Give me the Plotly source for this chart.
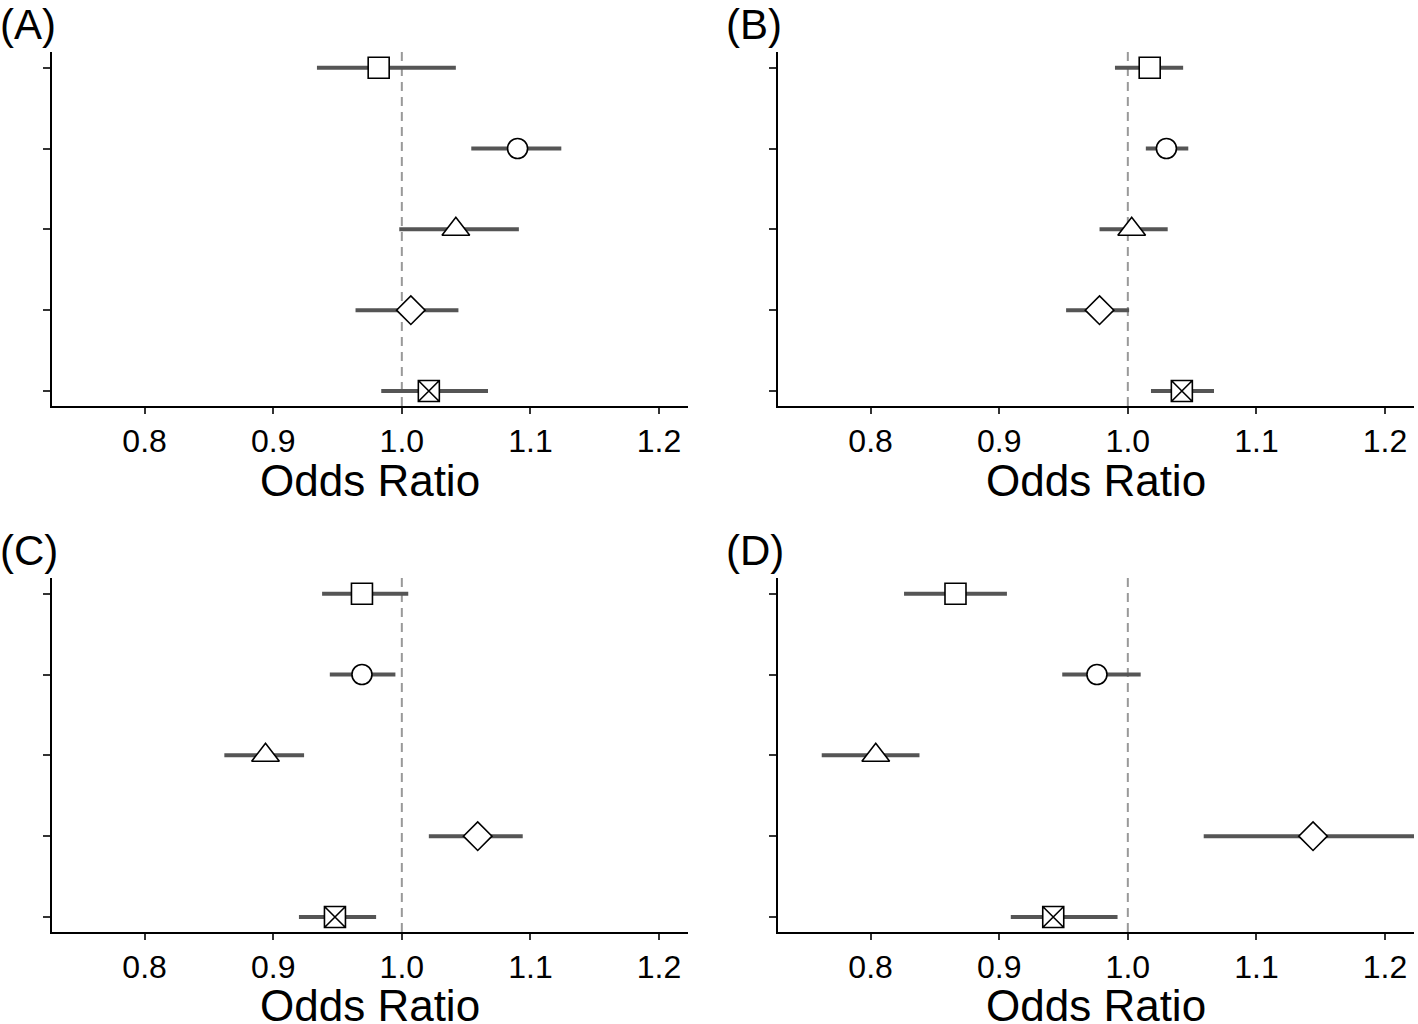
import plotly.graph_objects as go

# Rows (top to bottom): square, circle, triangle, diamond, crossed square
rows = [5, 4, 3, 2, 1]
symbols = ["square", "circle", "triangle-up", "diamond", "square-x"]
sizes = [21, 20, 24, 22, 21]

panels = ["(A)", "(B)", "(C)", "(D)"]

est_A = [0.982, 1.090, 1.042, 1.007, 1.021]
lo_A = [0.934, 1.054, 0.998, 0.964, 0.984]
hi_A = [1.042, 1.124, 1.091, 1.044, 1.067]

est_B = [1.017, 1.030, 1.003, 0.978, 1.042]
lo_B = [0.990, 1.014, 0.978, 0.952, 1.018]
hi_B = [1.043, 1.047, 1.031, 1.001, 1.067]

est_C = [0.969, 0.969, 0.894, 1.059, 0.948]
lo_C = [0.938, 0.944, 0.862, 1.021, 0.920]
hi_C = [1.005, 0.995, 0.924, 1.094, 0.980]

est_D = [0.866, 0.976, 0.804, 1.144, 0.942]
lo_D = [0.826, 0.949, 0.762, 1.059, 0.909]
hi_D = [0.906, 1.010, 0.838, 1.240, 0.992]

x_ticks = [0.8, 0.9, 1.0, 1.1, 1.2]
x_ticktext = ["0.8", "0.9", "1.0", "1.1", "1.2"]
x_title = "Odds Ratio"

data = [(est_A, lo_A, hi_A), (est_B, lo_B, hi_B), (est_C, lo_C, hi_C), (est_D, lo_D, hi_D)]

W, H = 1418, 1024
# plot-area pixel boxes (left, right, top, bottom)
boxes = [(52, 688, 52, 406), (778, 1414, 52, 406), (52, 688, 578, 932), (778, 1414, 578, 932)]
# distance from the x axis to the centre of the axis title
title_gap = [74, 74, 73, 73]

FONT = "Liberation Sans, Arial, sans-serif"

fig = go.Figure()
layout = dict(
    width=W, height=H, margin=dict(l=0, r=0, t=0, b=0),
    paper_bgcolor="white", plot_bgcolor="white", showlegend=False,
    font=dict(family=FONT, color="black"),
)
annotations = []
shapes = []

for i, (est, lo, hi) in enumerate(data):
    n = "" if i == 0 else str(i + 1)
    xa, ya = "x" + n, "y" + n
    plus = [h - e for h, e in zip(hi, est)]
    minus = [e - l for e, l in zip(est, lo)]
    fig.add_trace(go.Scatter(
        x=est, y=rows, mode="markers", xaxis=xa, yaxis=ya,
        marker=dict(symbol=symbols, size=sizes, color="white", opacity=1,
                    line=dict(color="black", width=1.6)),
        error_x=dict(type="data", array=plus, arrayminus=minus, width=0,
                     thickness=4, color="#555555"),
        hoverinfo="x+y",
    ))
    l, r, t, b = boxes[i]
    xd = [l / W, r / W]
    yd = [1 - b / H, 1 - t / H]
    layout["xaxis" + n] = dict(
        domain=xd, anchor=ya, range=[0.728, 1.2225],
        tickvals=x_ticks, ticktext=x_ticktext, ticks="outside", ticklen=6,
        tickwidth=2, tickcolor="#333333", showline=True, linecolor="black",
        linewidth=2, showgrid=False, zeroline=False,
        tickfont=dict(size=32, color="black", family=FONT),
    )
    layout["yaxis" + n] = dict(
        domain=yd, anchor=xa, range=[0.814, 5.194],
        tickvals=rows, showticklabels=False, ticks="outside", ticklen=7,
        tickwidth=2, tickcolor="#333333", showline=True, linecolor="black",
        linewidth=2, showgrid=False, zeroline=False,
    )
    shapes.append(dict(
        type="line", xref=xa, yref=ya + " domain", x0=1.0, x1=1.0, y0=0, y1=1,
        line=dict(color="#999999", width=2, dash="9px,6px"), layer="below",
    ))
    annotations.append(dict(
        text=x_title, xref="paper", yref="paper",
        x=(l + r) / 2 / W, y=1 - (b + title_gap[i]) / H, xanchor="center", yanchor="middle",
        showarrow=False, font=dict(size=44, color="black", family=FONT),
    ))
    annotations.append(dict(
        text=panels[i], xref="paper", yref="paper",
        x=(l - 54) / W, y=1 - (t - 28) / H, xanchor="left", yanchor="middle",
        showarrow=False, font=dict(size=42, color="black", family=FONT),
    ))

layout["annotations"] = annotations
layout["shapes"] = shapes
fig.update_layout(**layout)
fig.write_html("out.html", config={"displayModeBar": False},
               post_script="document.body.style.margin='0px';")
